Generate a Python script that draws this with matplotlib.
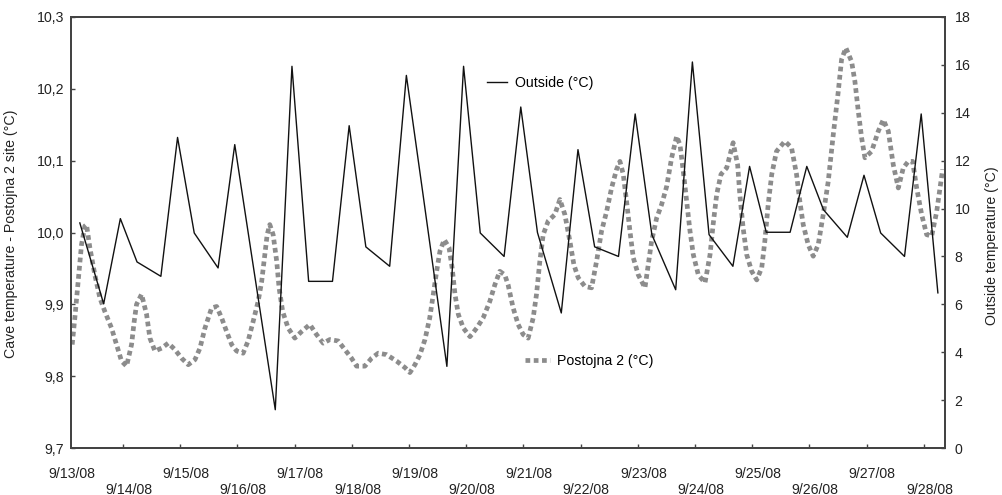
import matplotlib.pyplot as plt
from matplotlib.ticker import FixedLocator, FuncFormatter

plt.rcParams["font.family"] = ["Liberation Sans", "DejaVu Sans"]
plt.rcParams["font.size"] = 10.2

# x tick labels (one per day), hours since 9/13/08
day_labels = ["9/13/08", "9/14/08", "9/15/08", "9/16/08", "9/17/08", "9/18/08",
              "9/19/08", "9/20/08", "9/21/08", "9/22/08", "9/23/08", "9/24/08",
              "9/25/08", "9/26/08", "9/27/08", "9/28/08"]

# outside temperature: three readings a day
obs_clock = [3.5, 13.5, 20.5]
outside_hours = [24 * d + h for d in range(15) for h in obs_clock] + [24 * 15 + 3.5]
outside_temp = [9.40, 6.02, 9.58, 7.77, 7.17, 12.97, 8.98, 7.52, 12.67, 8.10,
                1.60, 15.94, 6.96, 6.96, 13.46, 8.40, 7.59, 15.56, 10.58, 3.41,
                15.94, 8.98, 8.00, 14.24, 9.00, 5.64, 12.46, 8.40, 8.00, 13.95,
                8.91, 6.61, 16.12, 8.91, 7.59, 11.76, 9.01, 9.01, 11.76, 9.95,
                8.80, 11.39, 8.98, 8.00, 13.95, 6.48]

# cave temperature, Postojna 2 site
cave_hours = [0.3, 1.4, 2.8, 4.2, 5.6, 6.3, 7.7, 9.8, 11.9, 14.0,
              16.8, 18.9, 21.0, 23.1, 25.2, 26.3, 27.3, 29.4, 31.5, 32.9,
              35.0, 37.8, 40.6, 43.4, 46.2, 49.0, 51.8, 53.9, 56.0, 58.8,
              60.9, 63.0, 65.1, 67.2, 69.3, 72.0, 74.1, 76.2, 78.3, 79.8,
              81.1, 82.1, 83.2, 84.6, 86.1, 87.1, 88.6, 90.9, 93.7, 96.5,
              100.0, 102.8, 105.6, 108.4, 111.9, 114.7, 117.5, 119.6, 123.1, 125.9,
              128.7, 132.2, 136.4, 139.9, 142.0, 144.1, 146.2, 148.3, 150.3, 151.8,
              153.2, 154.6, 156.4, 158.4, 159.7, 160.9, 162.3, 164.4, 167.2, 170.0,
              172.7, 175.5, 177.6, 179.7, 181.8, 183.2, 185.3, 187.4, 189.5, 191.6,
              193.7, 195.1, 196.5, 197.9, 200.0, 202.8, 204.9, 207.0, 209.1, 210.8,
              212.6, 215.4, 218.2, 220.3, 222.4, 224.5, 226.6, 228.7, 230.1, 231.5,
              232.9, 234.3, 235.7, 237.8, 240.6, 242.0, 243.4, 245.5, 247.6, 249.7,
              251.8, 253.9, 255.3, 256.7, 258.1, 259.5, 260.9, 263.0, 265.8, 267.9,
              269.2, 270.7, 272.5, 274.9, 277.6, 279.5, 280.4, 281.8, 283.3, 285.4,
              287.5, 289.6, 290.9, 292.3, 293.8, 295.8, 299.3, 302.1, 304.2, 305.6,
              307.0, 309.1, 311.2, 313.3, 315.4, 317.5, 319.6, 321.7, 323.1, 324.9,
              327.3, 328.7, 330.1, 331.5, 332.9, 335.7, 338.5, 340.6, 342.7, 344.8,
              346.9, 349.0, 351.1, 352.9, 354.6, 356.7, 358.8, 360.9, 363.0, 364.4,
              365.5]
cave_temp = [9.844, 9.881, 9.932, 9.983, 10.009, 10.011, 9.979, 9.941, 9.909, 9.890,
             9.867, 9.844, 9.821, 9.814, 9.844, 9.876, 9.900, 9.914, 9.886, 9.853,
             9.835, 9.839, 9.846, 9.837, 9.825, 9.816, 9.823, 9.839, 9.867, 9.895,
             9.897, 9.881, 9.862, 9.844, 9.835, 9.832, 9.849, 9.876, 9.904, 9.932,
             9.969, 9.997, 10.011, 9.997, 9.960, 9.923, 9.890, 9.867, 9.853, 9.862,
             9.872, 9.858, 9.846, 9.851, 9.849, 9.837, 9.825, 9.814, 9.814, 9.825,
             9.832, 9.830, 9.821, 9.812, 9.805, 9.816, 9.830, 9.851, 9.881, 9.914,
             9.946, 9.974, 9.990, 9.979, 9.951, 9.914, 9.886, 9.867, 9.855, 9.867,
             9.881, 9.904, 9.927, 9.946, 9.941, 9.927, 9.895, 9.872, 9.858, 9.853,
             9.881, 9.914, 9.960, 9.997, 10.016, 10.025, 10.046, 10.025, 9.988, 9.955,
             9.937, 9.925, 9.923, 9.960, 10.002, 10.029, 10.062, 10.088, 10.099, 10.081,
             10.043, 10.002, 9.965, 9.941, 9.923, 9.955, 9.988, 10.020, 10.039, 10.064,
             10.104, 10.134, 10.122, 10.085, 10.043, 10.002, 9.969, 9.941, 9.930, 9.969,
             10.011, 10.053, 10.081, 10.090, 10.125, 10.094, 10.053, 10.006, 9.969, 9.946,
             9.934, 9.951, 9.988, 10.039, 10.081, 10.113, 10.127, 10.118, 10.081, 10.043,
             10.011, 9.983, 9.967, 9.983, 10.025, 10.071, 10.136, 10.196, 10.241, 10.257,
             10.238, 10.210, 10.169, 10.132, 10.104, 10.113, 10.141, 10.157, 10.141, 10.094,
             10.062, 10.090, 10.099, 10.099, 10.062, 10.025, 9.997, 9.995, 10.029, 10.062,
             10.088]

cave_ticks = [9.7, 9.8, 9.9, 10.0, 10.1, 10.2, 10.3]
outside_ticks = [0, 2, 4, 6, 8, 10, 12, 14, 16, 18]

spine_col = "#444444"
text_col = "#222222"

fig = plt.figure(figsize=(10.03, 4.95), dpi=100)
ax = fig.add_axes([0.0708, 0.0949, 0.8714, 0.8708])
ax2 = ax.twinx()

cave_line, = ax.plot(cave_hours, cave_temp, color="#8c8c8c", lw=3.4,
                     linestyle=(0, (1, 0.75)), label="Postojna 2 (°C)")
out_line, = ax2.plot(outside_hours, outside_temp, color="#111111", lw=1.0,
                     label="Outside (°C)")

ax.set_xlim(-0.2, 366.5)
ax.set_ylim(9.7, 10.3)
ax2.set_ylim(0, 18)

# day labels, alternating rows; tick marks sit slightly left of the labels
label_pos = [24 * i for i in range(len(day_labels))]
ax.xaxis.set_major_locator(FixedLocator(label_pos))
ax.set_xticklabels([lab if i % 2 == 0 else "\n" + lab for i, lab in enumerate(day_labels)])
ax.xaxis.set_minor_locator(FixedLocator([p - 2.4 for p in label_pos[1:]]))
ax.tick_params(axis="x", which="major", length=0, pad=13.5, colors=text_col)
ax.tick_params(axis="x", which="minor", direction="in", length=3, width=1, color=spine_col)

ax.yaxis.set_major_locator(FixedLocator(cave_ticks))
ax.yaxis.set_major_formatter(FuncFormatter(lambda v, p: f"{v:.1f}".replace(".", ",")))
ax.tick_params(axis="y", direction="in", length=3, width=1, color=spine_col,
               labelcolor=text_col, pad=5)
ax2.yaxis.set_major_locator(FixedLocator(outside_ticks))
ax2.tick_params(axis="y", direction="in", length=3, width=1, color=spine_col,
                labelcolor=text_col, pad=7)

for a in (ax, ax2):
    for s in a.spines.values():
        s.set_color(spine_col)
        s.set_linewidth(1.4)

ax.set_ylabel("Cave temperature - Postojna 2 site (°C)", color=text_col)
ax.yaxis.set_label_coords(-0.061, 0.497)
ax2.set_ylabel("Outside temperature (°C)", color=text_col)
ax2.yaxis.set_label_coords(1.046, 0.469)

leg1 = ax2.legend(handles=[out_line], loc="center left", bbox_to_anchor=(0.476, 0.847),
                  frameon=False, borderpad=0, borderaxespad=0, handlelength=1.4,
                  handletextpad=0.6)
ax2.add_artist(leg1)
ax2.legend(handles=[cave_line], loc="center left", bbox_to_anchor=(0.519, 0.202),
           frameon=False, borderpad=0, borderaxespad=0, handlelength=1.8,
           handletextpad=0.5)

fig.savefig("out.png", dpi=100)
